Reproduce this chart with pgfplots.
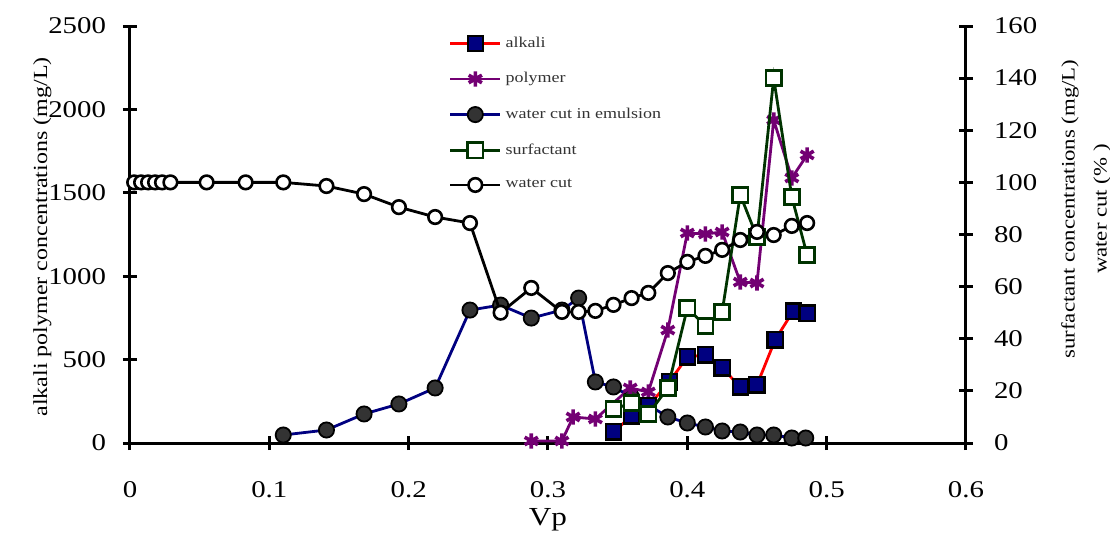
\documentclass[border=0pt]{standalone}
\usepackage{fontspec}
\setmainfont[FakeStretch=1.2]{Liberation Serif}
\usepackage{pgfplots}
\pgfplotsset{compat=1.18}
\definecolor{navyb}{rgb}{0,0,0.5}
\definecolor{purp}{rgb}{0.45,0,0.45}
\definecolor{dgreen}{rgb}{0,0.2,0}
\definecolor{dgray}{rgb}{0.2,0.2,0.2}
\pgfplotsset{
  alk/.style={red, line width=1.4pt, mark=square*, mark size=3.8pt, mark options={solid, fill=navyb, draw=black, line width=1.1pt}},
  poly/.style={purp, line width=1.4pt, mark=asterisk, mark size=3.8pt, mark options={solid, line width=1.8pt}},
  emul/.style={navyb, line width=1.4pt, mark=*, mark size=3.8pt, mark options={solid, fill=dgray, draw=black, line width=0.9pt}},
  surf/.style={dgreen, line width=1.4pt, mark=square*, mark size=3.8pt, mark options={solid, fill=white, draw=dgreen, line width=1.3pt}},
  wcut/.style={black, line width=1.4pt, mark=*, mark size=3.4pt, mark options={solid, fill=white, draw=black, line width=1.3pt}},
  common/.style={
    scale only axis, width=418pt, height=208.5pt,
    xmin=0, xmax=0.6,
    axis line style={line width=1.5pt, black},
    major tick style={line width=1.5pt, black},
    tick align=center, major tick length=7pt,
    /pgf/number format/assume math mode=true,
    /pgf/number format/1000 sep={},
    tick label style={font=\fontsize{12}{14}\selectfont},
  },
}
\begin{document}
\begin{tikzpicture}
\begin{axis}[common,
  axis x line*=bottom, axis y line*=left,
  ymin=0, ymax=2500,
  xtick={0,0.1,0.2,0.3,0.4,0.5,0.6},
  xticklabels={0,0.1,0.2,0.3,0.4,0.5,0.6},
  ytick={0,500,1000,1500,2000,2500},
  xticklabel style={yshift=-12pt},
  yticklabel style={xshift=-5pt},
  xlabel={Vp},
  xlabel style={font=\fontsize{13}{15}\selectfont, at={(axis description cs:0.5,-0.185)}, anchor=center},
  ylabel={alkali polymer concentrations (mg/L)},
  ylabel style={font=\fontsize{10}{12}\selectfont, at={(axis description cs:-0.105,0.494)}, anchor=center},
  clip=false,
]
\coordinate (SW) at (rel axis cs:0,0);
\addplot[emul] coordinates {
(0.110,48) (0.141,78) (0.168,174) (0.193,234) (0.219,330) (0.244,797) (0.266,827)
(0.288,749) (0.310,797) (0.322,869) (0.334,366) (0.347,336) (0.360,276) (0.372,228)
(0.386,156) (0.400,120) (0.413,96) (0.425,72) (0.438,66) (0.450,48) (0.462,48)
(0.475,30) (0.485,30)};
\addplot[poly] coordinates {
(0.288,12) (0.310,12) (0.318,156) (0.334,144) (0.359,330) (0.372,306) (0.386,677)
(0.400,1259) (0.413,1253) (0.425,1265) (0.438,965) (0.450,959) (0.462,1936)
(0.475,1589) (0.486,1727)};
\addplot[alk] coordinates {
(0.347,66) (0.360,162) (0.372,222) (0.387,366) (0.400,516) (0.413,528) (0.425,450)
(0.438,336) (0.450,348) (0.463,618) (0.476,791) (0.486,779)};
\end{axis}
\begin{axis}[common,
  axis x line=none, axis y line*=right,
  ymin=0, ymax=160,
  ytick={0,20,40,60,80,100,120,140,160},
  yticklabel style={xshift=7pt},
  ylabel={surfactant concentrations (mg/L)\\water cut (\%~)},
  ylabel style={font=\fontsize{9.5}{16}\selectfont, align=center, at={(axis description cs:1.1435,0.561)}, anchor=center},
  legend style={at={(axis description cs:0.381,0.985)}, anchor=north west, draw=none, fill=none,
    font=\fontsize{7.5}{9}\selectfont\color{black!80}, row sep=7.1pt, inner sep=0pt},
  legend cell align=left,
  legend image code/.code={\draw[mark repeat=2,mark phase=2,#1] plot coordinates {(0pt,0pt) (12.5pt,0pt) (25pt,0pt)};},
  clip=false,
]
\addlegendimage{alk}\addlegendentry{alkali}
\addlegendimage{poly}\addlegendentry{polymer}
\addlegendimage{emul}\addlegendentry{water cut in emulsion}
\addplot[surf] coordinates {
(0.347,13.0) (0.360,15.3) (0.372,11.1) (0.386,21.1) (0.400,51.8) (0.413,44.9)
(0.425,50.3) (0.438,95.2) (0.450,79.0) (0.462,140) (0.475,94.4) (0.486,72.1)};
\addlegendentry{surfactant}
\addplot[wcut] coordinates {
(0.003,100) (0.008,100) (0.013,100) (0.018,100) (0.023,100) (0.029,100)
(0.055,100) (0.083,100) (0.110,100) (0.141,98.6) (0.168,95.5) (0.193,90.5)
(0.219,86.7) (0.244,84.4) (0.266,50.0) (0.288,59.5) (0.310,50.3) (0.322,50.3)
(0.334,50.7) (0.347,53.0) (0.360,55.6) (0.372,57.6) (0.386,65.2) (0.400,69.5)
(0.413,71.8) (0.425,74.1) (0.438,77.9) (0.450,81.0) (0.462,79.8) (0.475,83.3)
(0.486,84.4)};
\addlegendentry{water cut}
\end{axis}
\pgfresetboundingbox
\path (SW) ++(-65pt,-47pt) rectangle ++(555pt,268.5pt);
\end{tikzpicture}
\end{document}
